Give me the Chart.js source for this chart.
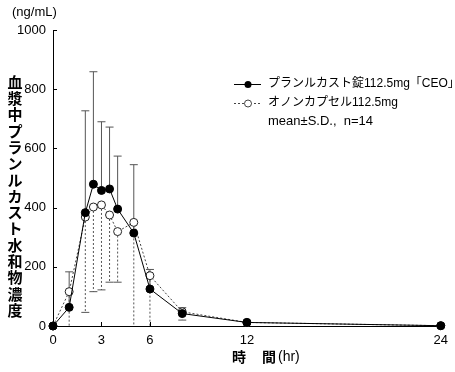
<!DOCTYPE html>
<html>
<head>
<meta charset="utf-8">
<script src="https://cdn.jsdelivr.net/npm/chart.js@4.4.0/dist/chart.umd.min.js"></script>
<style>
  html, body { margin: 0; padding: 0; background: #fff; }
</style>
</head>
<body>
<canvas id="pkChart" width="455" height="372"></canvas>
<script>
// time points (hr)
var times = [0, 1, 2, 2.5, 3, 3.5, 4, 5, 6, 8, 12, 24];
// プランルカスト錠112.5mg「CEO」 mean / SD (ng/mL)
var ceoMean = [0, 63, 383, 479, 458, 463, 395, 314, 125, 42, 12, 1];
var ceoSD = [0, 120, 344, 380, 232, 209, 179, 231, 66, 20, 0, 0];
// オノンカプセル112.5mg mean / SD (ng/mL)
var ononMean = [0, 116, 368, 402, 409, 375, 319, 350, 170, 48, 12, 1];
var ononSD = [0, 130, 322, 286, 287, 227, 171, 360, 190, 28, 0, 0];

var xTicks = [0, 3, 6, 12, 24];
var yTicks = [0, 200, 400, 600, 800, 1000];

var latin = "'Liberation Sans Narrow','Liberation Sans','Noto Sans CJK JP',sans-serif";
var jp = "'Noto Sans CJK JP','Liberation Sans',sans-serif";

function toPoints(ys) {
  return times.map(function (t, i) { return { x: t, y: ys[i] }; });
}

/******************************************************************
ERROR BARS, INNER TICKS, TITLES, LEGEND
******************************************************************/
var extras = {
  id: 'extras',
  beforeDatasetsDraw: function (chart) {
    var ctx = chart.ctx;
    var xs = chart.scales.x, ys = chart.scales.y;
    ctx.save();
    ctx.lineWidth = 1;
    // CEO: SD upward, solid
    ctx.strokeStyle = '#555';
    ctx.setLineDash([]);
    times.forEach(function (t, i) {
      if (!ceoSD[i]) return;
      var px = xs.getPixelForValue(t);
      var y0 = ys.getPixelForValue(ceoMean[i]);
      var y1 = ys.getPixelForValue(ceoMean[i] + ceoSD[i]);
      ctx.beginPath();
      ctx.moveTo(px, y0); ctx.lineTo(px, y1);
      ctx.moveTo(px - 4, y1); ctx.lineTo(px + 4, y1);
      ctx.stroke();
    });
    // Onon: SD downward, dashed
    times.forEach(function (t, i) {
      if (!ononSD[i]) return;
      var px = xs.getPixelForValue(t);
      var low = ononMean[i] - ononSD[i];
      var y0 = ys.getPixelForValue(ononMean[i]);
      var y1 = ys.getPixelForValue(Math.max(low, 0));
      ctx.setLineDash([2, 2]);
      ctx.beginPath();
      ctx.moveTo(px, y0); ctx.lineTo(px, y1);
      ctx.stroke();
      if (low > 0) {
        ctx.setLineDash([]);
        ctx.beginPath();
        ctx.moveTo(px - 4, y1); ctx.lineTo(px + 4, y1);
        ctx.stroke();
      }
    });
    ctx.restore();
  },
  afterDraw: function (chart) {
    var ctx = chart.ctx;
    var xs = chart.scales.x, ys = chart.scales.y;
    var area = chart.chartArea;
    ctx.save();
    // inner tick marks
    ctx.strokeStyle = '#000';
    ctx.lineWidth = 1;
    ctx.beginPath();
    yTicks.forEach(function (v) {
      var py = Math.round(ys.getPixelForValue(v)) + 0.5;
      ctx.moveTo(area.left, py); ctx.lineTo(area.left + 4, py);
    });
    xTicks.forEach(function (v) {
      var px = Math.round(xs.getPixelForValue(v)) + 0.5;
      ctx.moveTo(px, area.bottom); ctx.lineTo(px, area.bottom - 4);
    });
    ctx.stroke();

    ctx.fillStyle = '#000';
    // unit
    ctx.font = '13px ' + latin;
    ctx.textAlign = 'left';
    ctx.textBaseline = 'middle';
    ctx.fillText('(ng/mL)', 12, 12);

    // vertical y title
    var yTitle = '血漿中プランルカスト水和物濃度';
    ctx.font = 'bold 15px ' + jp;
    ctx.textAlign = 'center';
    for (var i = 0; i < yTitle.length; i++) {
      ctx.fillText(yTitle[i], 15, 82 + i * 16.3);
    }

    // x title
    ctx.font = 'bold 14px ' + jp;
    ctx.textAlign = 'left';
    ctx.fillText('時', 232, 357);
    ctx.fillText('間', 262, 357);
    ctx.font = '14px ' + latin;
    ctx.fillText('(hr)', 278, 357);

    // legend
    var lx0 = 234, lx1 = 261, mx = 248, tx = 268;
    ctx.lineWidth = 1;
    ctx.strokeStyle = '#000';
    ctx.setLineDash([]);
    ctx.beginPath(); ctx.moveTo(lx0, 84.5); ctx.lineTo(lx1, 84.5); ctx.stroke();
    ctx.beginPath(); ctx.arc(mx, 84.5, 3.5, 0, Math.PI * 2); ctx.fill();
    ctx.strokeStyle = '#444';
    ctx.setLineDash([2, 2]);
    ctx.beginPath(); ctx.moveTo(lx0, 103.5); ctx.lineTo(lx1, 103.5); ctx.stroke();
    ctx.setLineDash([]);
    ctx.fillStyle = '#fff';
    ctx.beginPath(); ctx.arc(mx, 103.5, 3.5, 0, Math.PI * 2); ctx.fill(); ctx.stroke();

    ctx.fillStyle = '#000';
    ctx.font = '12px ' + latin;
    ctx.textAlign = 'left';
    ctx.fillText('プランルカスト錠112.5mg「CEO」', tx, 84);
    ctx.fillText('オノンカプセル112.5mg', tx, 103);
    ctx.font = '13px ' + latin;
    ctx.fillText('mean±S.D.,  n=14', tx, 121);
    ctx.restore();
  }
};

/******************************************************************
CHART
******************************************************************/
var tickFont = { family: latin, size: 13 };
function plainLabel(v) { return String(v); }

new Chart(document.getElementById('pkChart').getContext('2d'), {
  type: 'line',
  data: {
    datasets: [{
      label: 'プランルカスト錠112.5mg「CEO」',
      data: toPoints(ceoMean),
      borderColor: '#000',
      borderWidth: 1,
      backgroundColor: '#000',
      pointBackgroundColor: '#000',
      pointBorderColor: '#000',
      pointRadius: 4,
      pointBorderWidth: 1,
      tension: 0,
      clip: false,
      order: 1
    }, {
      label: 'オノンカプセル112.5mg',
      data: toPoints(ononMean),
      borderColor: '#444',
      borderWidth: 1,
      borderDash: [2, 2],
      pointBackgroundColor: '#fff',
      pointBorderColor: '#222',
      pointRadius: 4,
      pointBorderWidth: 1,
      tension: 0,
      clip: false,
      order: 2
    }]
  },
  options: {
    responsive: false,
    animation: false,
    events: [],
    layout: { padding: { top: 30, right: 9, left: 0, bottom: 0 } },
    plugins: { legend: { display: false }, tooltip: { enabled: false } },
    scales: {
      x: {
        type: 'linear', min: 0, max: 24,
        afterBuildTicks: function (s) { s.ticks = xTicks.map(function (v) { return { value: v }; }); },
        afterFit: function (s) { s.height = 46; },
        grid: { display: false, drawTicks: false },
        border: { display: true, color: '#000', width: 1 },
        ticks: { font: tickFont, color: '#000', padding: 7, maxRotation: 0, callback: plainLabel }
      },
      y: {
        min: 0, max: 1000,
        afterBuildTicks: function (s) { s.ticks = yTicks.map(function (v) { return { value: v }; }); },
        afterFit: function (s) { s.width = 53; },
        grid: { display: false, drawTicks: false },
        border: { display: true, color: '#000', width: 1 },
        ticks: { font: tickFont, color: '#000', padding: 7, callback: plainLabel }
      }
    }
  },
  plugins: [extras]
});
</script>
</body>
</html>
